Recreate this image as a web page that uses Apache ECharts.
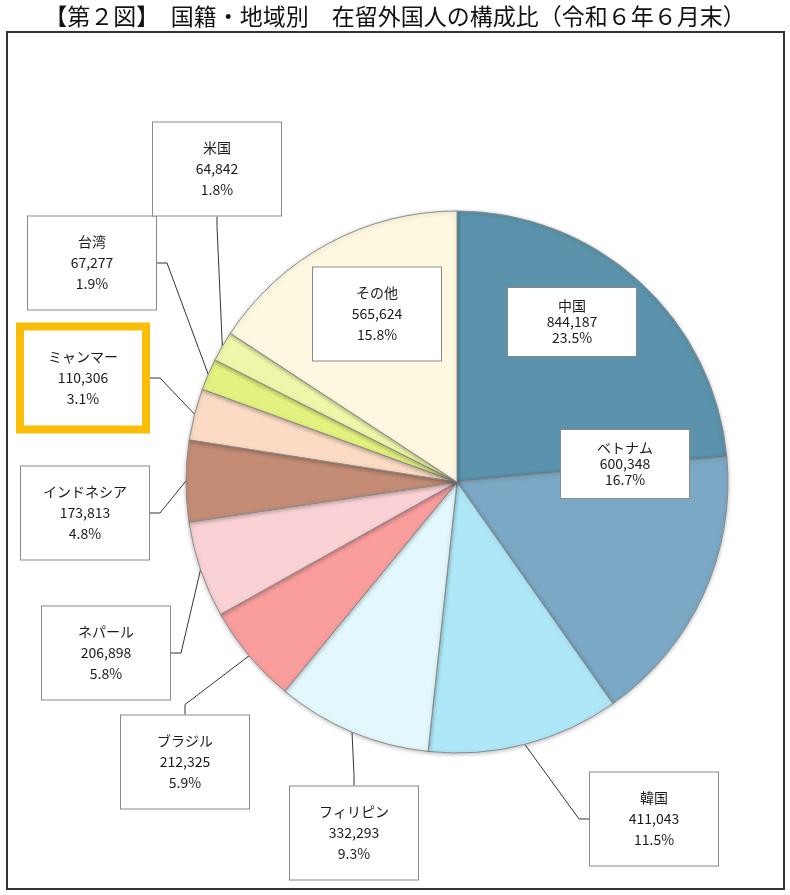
<!DOCTYPE html>
<html>
<head>
<meta charset="utf-8">
<script src="https://cdn.jsdelivr.net/npm/echarts@6/dist/echarts.min.js"></script>
<style>
html, body { margin: 0; padding: 0; background: #fff; }
#pieContainer { width: 790px; height: 895px; }
</style>
</head>
<body>
<div id="pieContainer"></div>
<script>
// 国籍・地域別 在留外国人（令和6年6月末）
var names = ['中国', 'ベトナム', '韓国', 'フィリピン', 'ブラジル', 'ネパール', 'インドネシア', 'ミャンマー', '台湾', '米国', 'その他'];
var counts = [844187, 600348, 411043, 332293, 212325, 206898, 173813, 110306, 67277, 64842, 565624];
var colors = ['#5a93ab', '#7ba9c5', '#aee8f8', '#e3f8fc', '#f99d9d', '#fad1d4', '#c48c75', '#fbdbc3', '#e3f17e', '#eff7ab', '#fdf8df'];

// label box centres (layout only)
var labelPos = [
	[572, 322], [625, 464], [654, 819], [354, 833], [185, 762], [106, 653],
	[85, 513], [83, 378], [92, 263], [217, 169], [377, 314]
];
var insideLabels = ['中国', 'ベトナム', 'その他'];

var total = counts.reduce(function (a, b) { return a + b; }, 0);

var seriesData = names.map(function (n, i) {
	var inside = insideLabels.indexOf(n) >= 0;
	var item = {
		name: n,
		value: counts[i],
		itemStyle: {color: colors[i]},
		labelLine: {show: !inside},
		label: {}
	};
	if (inside && n !== 'その他') {
		item.label = {lineHeight: 16, padding: [10, 4, 10, 4]};
	}
	if (n === 'ミャンマー') {
		item.label = {borderColor: '#fbbd08', borderWidth: 8, padding: [16, 4, 16, 4], width: 110};
	}
	return item;
});

var option = {
	animation: false,
	title: {
		text: '【第２図】　国籍・地域別　在留外国人の構成比（令和６年６月末）',
		left: 'center',
		top: 0,
		textStyle: {
			fontFamily: 'Noto Sans CJK JP',
			fontSize: 23,
			fontWeight: 'normal',
			color: '#111'
		}
	},
	graphic: [{
		type: 'rect',
		shape: {x: 7, y: 32, width: 777, height: 857},
		style: {fill: 'none', stroke: '#333', lineWidth: 2},
		z: -1
	}],
	series: [{
		type: 'pie',
		center: [457, 482],
		radius: 271,
		startAngle: 90,
		clockwise: true,
		data: seriesData,
		itemStyle: {
			borderColor: '#8c8c8c',
			borderWidth: 1,
			shadowBlur: 4,
			shadowColor: 'rgba(0,0,0,0.25)',
			shadowOffsetY: 1
		},
		label: {
			show: true,
			position: 'outside',
			formatter: function (p) {
				return p.name + '\n' + p.value.toLocaleString('en-US') + '\n' +
					(p.value / total * 100).toFixed(1) + '%';
			},
			fontFamily: 'Noto Sans CJK JP',
			fontSize: 14,
			lineHeight: 21,
			color: '#1a1a1a',
			align: 'center',
			width: 120,
			backgroundColor: '#fff',
			borderColor: '#8a8a8a',
			borderWidth: 1,
			padding: [15, 4, 15, 4]
		},
		labelLine: {
			show: true,
			length: 10,
			length2: 10,
			lineStyle: {color: '#333', width: 1}
		},
		labelLayout: function (params) {
			var p = labelPos[params.dataIndex];
			return {x: p[0], y: p[1], align: 'center', verticalAlign: 'middle'};
		},
		emphasis: {disabled: true}
	}]
};

var chart = echarts.init(document.getElementById('pieContainer'));
chart.setOption(option);
</script>
</body>
</html>
